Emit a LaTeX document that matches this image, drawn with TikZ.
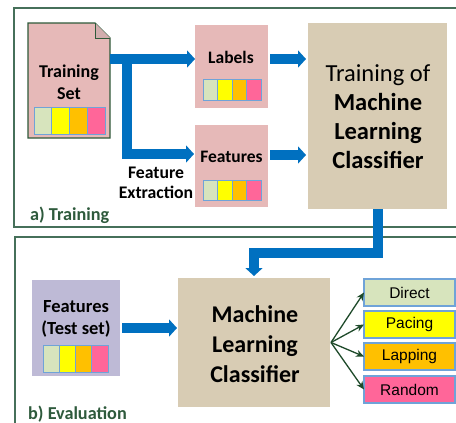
\documentclass[tikz,border=0pt]{standalone}
\usepackage{fontspec}
\setmainfont{Carlito}
\newfontfamily\arialf{Liberation Sans}
\usetikzlibrary{arrows.meta,calc}
\definecolor{frameg}{HTML}{46705A}
\definecolor{labelg}{HTML}{2E5A3C}
\definecolor{pinkbox}{HTML}{E6B9B8}
\definecolor{tanbox}{HTML}{D8CCB4}
\definecolor{lavbox}{HTML}{BEBAD6}
\definecolor{cgreen}{HTML}{D7E4BD}
\definecolor{cyellow}{HTML}{FFFF00}
\definecolor{corange}{HTML}{FFC000}
\definecolor{cpink}{HTML}{FF6699}
\definecolor{cellb}{HTML}{6FA3D8}
\definecolor{flowblue}{HTML}{0070C0}
\definecolor{fang}{HTML}{1E4A2A}
\definecolor{docb}{HTML}{2F5A3A}
\newcommand{\colorstrip}[4]{%
  \foreach \cc [count=\ii from 0] in {cgreen,cyellow,corange,cpink} {
    \draw[stripcell, fill=\cc] ({#1+\ii*#3/4},#2) rectangle ++({#3/4},#4);
  }%
}
\tikzset{
  box/.style={rectangle, inner sep=0pt, outer sep=0pt, anchor=north west},
  framebox/.style={draw=frameg, line width=1.4pt},
  stripcell/.style={draw=cellb, line width=1pt},
  flow/.style={draw=flowblue, line width=10pt, -{Triangle[width=17pt,length=8pt]}},
  fan/.style={draw=fang, line width=1.3pt, -{Stealth[length=8pt,width=7pt]}},
  btext/.style={align=center, font=\bfseries\fontsize{18.5}{22}\selectfont, inner sep=0pt},
  bigtext/.style={align=center, font=\fontsize{24.5}{29}\selectfont, inner sep=0pt},
  outbox/.style={box, draw=cellb, line width=1.2pt, minimum width=91pt, minimum height=27pt, font=\arialf\fontsize{15.5}{18}\selectfont},
  seclabel/.style={anchor=west, text=labelg, inner sep=0pt, font=\bfseries\fontsize{18.2}{20}\selectfont}
}
\begin{document}
\begin{tikzpicture}[x=1pt,y=-1pt]
\clip (0,0) rectangle (456,423);
\fill[white] (0,0) rectangle (456,423);
% frames
\draw[framebox] (14,8) rectangle (470,227);
\draw[framebox] (15,237) rectangle (470,440);
\node[seclabel] (la) at (30,215) {a) Training};
\node[seclabel] (lb) at (28,414) {b) Evaluation};
% training set document
\node[box, minimum width=82pt, minimum height=115pt] (ts) at (28,23) {};
\draw[fill=pinkbox, draw=docb, line width=1.2pt] (ts.north west) -- ($(ts.north east)+(-15,0)$) -- ($(ts.north east)+(0,15)$) -- (ts.south east) -- (ts.south west) -- cycle;
\draw[fill=pinkbox!80!gray, draw=docb, line width=1pt] ($(ts.north east)+(-15,0)$) -- ($(ts.north east)+(-15,15)$) -- ($(ts.north east)+(0,15)$);
\node[btext, font=\bfseries\fontsize{18}{22}\selectfont] (tst) at (69,82) {Training\\Set};
\colorstrip{34}{107}{71}{27}
% labels / features
\node[box, fill=pinkbox, minimum width=73pt, minimum height=83pt] (lab) at (195,25) {};
\node[btext, font=\bfseries\fontsize{17.5}{20}\selectfont] (labt) at (231,57) {Labels};
\colorstrip{203}{79}{58}{21}
\node[box, fill=pinkbox, minimum width=73pt, minimum height=82pt] (feat) at (195,125) {};
\node[btext, font=\bfseries\fontsize{17.5}{20}\selectfont] (featt) at (231.5,157) {Features};
\colorstrip{203}{180}{58}{20}
\node[btext, font=\bfseries\fontsize{17.7}{20}\selectfont] (fext) at (156,183) {Feature\\Extraction};
% training box
\node[box, fill=tanbox, minimum width=139pt, minimum height=186pt] (train) at (308,23) {};
\node[bigtext] (traint) at (378,117) {Training of\\\textbf{Machine}\\\textbf{Learning}\\\textbf{Classifier}};
% flows training
\draw[flow] ($(ts.north east)+(0,36)$) -- ($(lab.north west)+(0,34)$);
\draw[flow] ($(ts.north east)+(17,36)$) -- ($(ts.north east)+(17,131)$) -- ($(feat.north west)+(-1,29)$);
\draw[flow] ($(lab.north east)+(2,34)$) -- ($(train.north west)+(-2,36)$);
\draw[flow] ($(feat.north east)+(2,30)$) -- ($(train.north west)+(-2,132)$);
% evaluation
\node[box, fill=lavbox, minimum width=88pt, minimum height=96pt] (test) at (32,280) {};
\node[btext] (testt) at (76,318.5) {Features\\(Test set)};
\colorstrip{43}{345}{65}{27}
\node[box, fill=tanbox, minimum width=152pt, minimum height=129pt] (ml) at (178,278) {};
\node[bigtext, font=\bfseries\fontsize{24}{30}\selectfont] (mlt) at (255,344) {Machine\\Learning\\Classifier};
\draw[flow] ($(test.north east)+(2,48)$) -- ($(ml.north west)+(-1,50)$);
\draw[flow] (train.south) ++(0.5,0) -- ++(0,44) -- ($(ml.north west)+(76,-25)$) -- ($(ml.north west)+(76,-2)$);
% outputs
\node[outbox, fill=cgreen] (o1) at (364,279) {Direct};
\node[outbox, fill=cyellow] (o2) at (364,311) {Pacing};
\node[outbox, fill=corange] (o3) at (364,343) {Lapping};
\node[outbox, fill=cpink] (o4) at (364,376) {Random};
\coordinate (mlout) at ($(ml.east)+(1,0)$);
\foreach \o in {o1,o2,o3,o4} { \draw[fan] (mlout) -- (\o.west); }
\end{tikzpicture}
\end{document}
